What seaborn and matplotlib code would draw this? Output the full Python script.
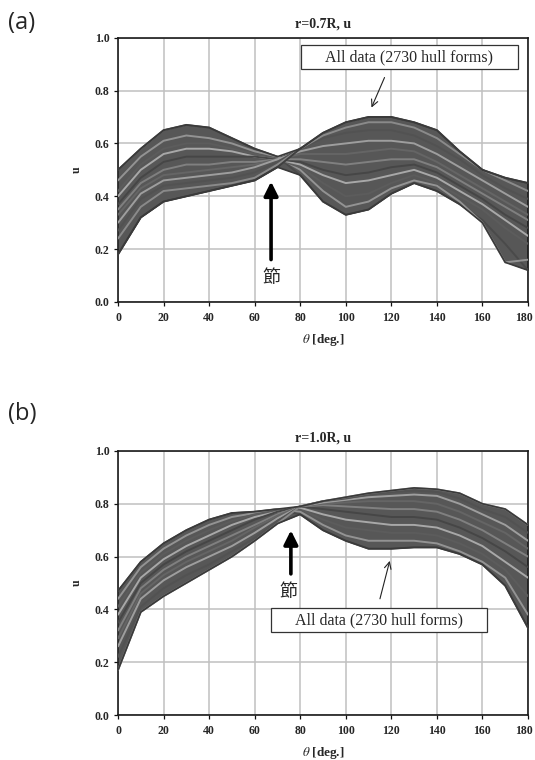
import numpy as np
import pandas as pd
import matplotlib
matplotlib.use("Agg")
import matplotlib.pyplot as plt
import matplotlib.transforms as mtransforms
from matplotlib.patches import Rectangle
import seaborn as sns

# ---------------- data ----------------
theta = [0, 10, 20, 30, 40, 50, 60, 70, 80, 90, 100, 110, 120, 130, 140, 150, 160, 170, 180]

# panel (a): r = 0.7R
a_c1 = [0.50, 0.58, 0.65, 0.67, 0.66, 0.62, 0.58, 0.55, 0.48, 0.38, 0.33, 0.35, 0.41, 0.45, 0.42, 0.37, 0.31, 0.22, 0.12]
a_c2 = [0.46, 0.55, 0.61, 0.63, 0.62, 0.60, 0.57, 0.55, 0.50, 0.42, 0.36, 0.38, 0.43, 0.46, 0.44, 0.38, 0.30, 0.15, 0.16]
a_c3 = [0.42, 0.52, 0.58, 0.60, 0.60, 0.58, 0.56, 0.54, 0.51, 0.45, 0.40, 0.41, 0.45, 0.48, 0.45, 0.40, 0.35, 0.28, 0.22]
a_c4 = [0.40, 0.50, 0.56, 0.58, 0.58, 0.57, 0.55, 0.54, 0.52, 0.48, 0.45, 0.46, 0.48, 0.50, 0.47, 0.42, 0.37, 0.31, 0.25]
a_c5 = [0.37, 0.47, 0.53, 0.55, 0.55, 0.55, 0.55, 0.54, 0.53, 0.50, 0.48, 0.49, 0.51, 0.52, 0.49, 0.44, 0.39, 0.33, 0.28]
a_c6 = [0.35, 0.45, 0.50, 0.52, 0.52, 0.53, 0.53, 0.54, 0.54, 0.53, 0.52, 0.53, 0.54, 0.54, 0.51, 0.46, 0.41, 0.36, 0.31]
a_c7 = [0.33, 0.43, 0.48, 0.49, 0.50, 0.51, 0.52, 0.54, 0.56, 0.56, 0.56, 0.57, 0.58, 0.57, 0.53, 0.48, 0.43, 0.38, 0.33]
a_c8 = [0.30, 0.41, 0.46, 0.47, 0.48, 0.49, 0.51, 0.54, 0.57, 0.59, 0.60, 0.61, 0.61, 0.60, 0.56, 0.51, 0.46, 0.41, 0.36]
a_c9 = [0.27, 0.39, 0.44, 0.45, 0.46, 0.47, 0.49, 0.53, 0.58, 0.62, 0.64, 0.65, 0.65, 0.63, 0.59, 0.54, 0.48, 0.43, 0.39]
a_c10 = [0.24, 0.36, 0.42, 0.43, 0.44, 0.45, 0.47, 0.52, 0.58, 0.63, 0.66, 0.68, 0.68, 0.66, 0.62, 0.56, 0.50, 0.46, 0.42]
a_c11 = [0.18, 0.32, 0.38, 0.40, 0.42, 0.44, 0.46, 0.51, 0.58, 0.64, 0.68, 0.70, 0.70, 0.68, 0.65, 0.57, 0.50, 0.47, 0.45]

# panel (b): r = 1.0R
b_c1 = [0.47, 0.58, 0.65, 0.70, 0.74, 0.765, 0.77, 0.78, 0.76, 0.70, 0.66, 0.63, 0.63, 0.635, 0.635, 0.61, 0.57, 0.49, 0.33]
b_c2 = [0.44, 0.56, 0.63, 0.68, 0.72, 0.75, 0.765, 0.78, 0.77, 0.72, 0.68, 0.66, 0.66, 0.66, 0.65, 0.62, 0.58, 0.52, 0.38]
b_c3 = [0.41, 0.54, 0.61, 0.66, 0.70, 0.735, 0.76, 0.775, 0.78, 0.74, 0.71, 0.70, 0.69, 0.69, 0.68, 0.65, 0.61, 0.55, 0.45]
b_c4 = [0.38, 0.52, 0.59, 0.64, 0.68, 0.72, 0.75, 0.77, 0.785, 0.76, 0.74, 0.73, 0.72, 0.72, 0.71, 0.68, 0.64, 0.58, 0.52]
b_c5 = [0.35, 0.50, 0.57, 0.62, 0.66, 0.70, 0.74, 0.77, 0.79, 0.78, 0.77, 0.76, 0.75, 0.75, 0.74, 0.71, 0.67, 0.62, 0.56]
b_c6 = [0.32, 0.48, 0.55, 0.60, 0.64, 0.68, 0.72, 0.76, 0.79, 0.795, 0.79, 0.785, 0.78, 0.78, 0.77, 0.74, 0.70, 0.65, 0.60]
b_c7 = [0.29, 0.46, 0.53, 0.58, 0.62, 0.66, 0.71, 0.755, 0.79, 0.80, 0.805, 0.81, 0.81, 0.81, 0.80, 0.77, 0.73, 0.69, 0.63]
b_c8 = [0.26, 0.44, 0.51, 0.56, 0.60, 0.64, 0.69, 0.745, 0.79, 0.805, 0.815, 0.825, 0.83, 0.835, 0.83, 0.80, 0.76, 0.72, 0.66]
b_c9 = [0.22, 0.41, 0.48, 0.53, 0.57, 0.62, 0.67, 0.735, 0.79, 0.81, 0.82, 0.835, 0.845, 0.85, 0.845, 0.82, 0.78, 0.75, 0.69]
b_c10 = [0.17, 0.39, 0.45, 0.50, 0.55, 0.60, 0.66, 0.725, 0.79, 0.81, 0.825, 0.84, 0.85, 0.86, 0.855, 0.84, 0.80, 0.78, 0.72]

a_curves = [a_c1, a_c2, a_c3, a_c4, a_c5, a_c6, a_c7, a_c8, a_c9, a_c10, a_c11]
b_curves = [b_c1, b_c2, b_c3, b_c4, b_c5, b_c6, b_c7, b_c8, b_c9, b_c10]

titles = ["r=0.7R, u", "r=1.0R, u"]
panel_labels = ["(a)", "(b)"]
box_text = "All data (2730 hull forms)"
node_text = "節"
xticks = [0, 20, 40, 60, 80, 100, 120, 140, 160, 180]
yticks = [0.0, 0.2, 0.4, 0.6, 0.8, 1.0]


def to_long(curves):
    rows = []
    for i, c in enumerate(curves):
        for t, v in zip(theta, c):
            rows.append({"theta": t, "u": v, "curve": f"c{i}"})
    return pd.DataFrame(rows)


sns.set_theme(style="whitegrid")
plt.rcParams["font.family"] = ["Liberation Serif", "Noto Sans CJK JP", "DejaVu Sans"]
plt.rcParams["mathtext.fontset"] = "stix"

fig = plt.figure(figsize=(5.35, 7.6), dpi=100)
ax_a = fig.add_axes([118 / 535, 1 - 302 / 760, 410 / 535, 264.3 / 760])
ax_b = fig.add_axes([118 / 535, 1 - 715 / 760, 410 / 535, 264 / 760])

grays = ["#4a4a4a", "#939393", "#5c5c5c", "#a8a8a8", "#464646", "#808080",
         "#656565", "#9e9e9e", "#525252", "#8a8a8a", "#3f3f3f"]

for ax, curves, title in [(ax_a, a_curves, titles[0]), (ax_b, b_curves, titles[1])]:
    df = to_long(curves)
    arr = np.array(curves)
    ax.fill_between(theta, arr.min(axis=0), arr.max(axis=0), color="#575757", lw=0, zorder=2)
    sns.lineplot(data=df, x="theta", y="u", hue="curve", palette=grays[:len(curves)],
                 legend=False, ax=ax, lw=1.4, zorder=3, estimator=None)
    ax.plot(theta, arr.max(axis=0), color="#3a3a3a", lw=1.2, zorder=4)
    ax.plot(theta, arr.min(axis=0), color="#3a3a3a", lw=1.2, zorder=4)
    ax.set_xlim(0, 180)
    ax.set_ylim(0, 1.0)
    ax.set_xticks(xticks)
    ax.set_yticks(yticks)
    ax.set_xticklabels([str(x) for x in xticks], fontsize=8.5, fontweight="bold")
    ax.set_yticklabels([f"{y:.1f}" for y in yticks], fontsize=8.5, fontweight="bold")
    ax.grid(True, color="#c0c0c0", lw=1.1, zorder=0)
    ax.set_axisbelow(True)
    for s in ["top", "right", "left", "bottom"]:
        ax.spines[s].set_color("#1a1a1a")
        ax.spines[s].set_linewidth(1.2)
    ax.tick_params(axis="both", length=3, width=0.9, color="#111111", direction="out")
    ax.tick_params(axis="y", pad=3)
    ax.tick_params(axis="x", pad=4)
    ax.tick_params(axis="both", which="both", bottom=True, left=True)
    ax.set_title(title, fontsize=10, fontweight="bold", pad=7)
    ax.set_xlabel(r"$\theta$ [deg.]", fontsize=9.5, fontweight="bold", labelpad=6)
    ax.set_ylabel("u", fontsize=8.5, fontweight="bold", labelpad=9)
    # keep the last tick label inside the figure edge
    last = ax.get_xticklabels()[-1]
    last.set_transform(last.get_transform() +
                       mtransforms.ScaledTranslation(-4 / 100, 0, fig.dpi_scale_trans))


def add_box(ax, x0, x1, y0, y1):
    ax.add_patch(Rectangle((x0, y0), x1 - x0, y1 - y0, fc="white", ec="#333333", lw=0.9, zorder=6))
    ax.text((x0 + x1) / 2, (y0 + y1) / 2, box_text, ha="center", va="center", fontsize=11.5, zorder=7)


# annotations panel (a)
add_box(ax_a, 80.4, 175.5, 0.880, 0.972)
ax_a.annotate("", xy=(110.8, 0.726), xytext=(117.5, 0.859),
              arrowprops=dict(arrowstyle="->", color="#222222", lw=0.8), zorder=6)
ax_a.annotate("", xy=(67.2, 0.466), xytext=(67.2, 0.15),
              arrowprops=dict(arrowstyle="-|>,head_width=0.35,head_length=0.7", color="black", lw=2.6), zorder=6)
ax_a.text(67.2, 0.092, node_text, ha="center", va="center", fontsize=13,
          family=["Noto Sans CJK JP", "DejaVu Sans"], zorder=6)

# annotations panel (b)
add_box(ax_b, 67.2, 162.0, 0.313, 0.406)
ax_b.annotate("", xy=(119.6, 0.594), xytext=(114.7, 0.43),
              arrowprops=dict(arrowstyle="->", color="#222222", lw=0.8), zorder=6)
ax_b.annotate("", xy=(75.9, 0.71), xytext=(75.9, 0.524),
              arrowprops=dict(arrowstyle="-|>,head_width=0.35,head_length=0.7", color="black", lw=2.6), zorder=6)
ax_b.text(74.7, 0.465, node_text, ha="center", va="center", fontsize=13,
          family=["Noto Sans CJK JP", "DejaVu Sans"], zorder=6)

fig.text(8 / 535, 1 - 23 / 760, panel_labels[0], ha="left", va="center", fontsize=17,
         family=["Open Sans", "DejaVu Sans"])
fig.text(8 / 535, 1 - 414 / 760, panel_labels[1], ha="left", va="center", fontsize=17,
         family=["Open Sans", "DejaVu Sans"])

fig.savefig("out.png", dpi=100, facecolor="white")
